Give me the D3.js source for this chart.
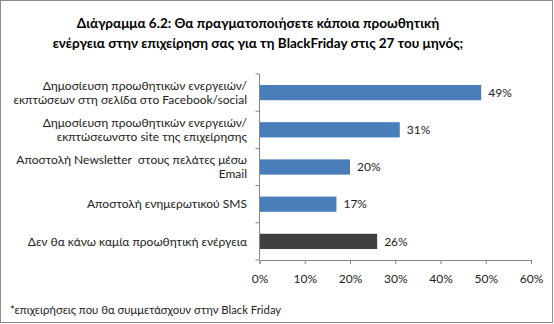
<!DOCTYPE html>
<html><head><meta charset="utf-8">
<script src="https://cdn.jsdelivr.net/npm/d3@7"></script>
<style>body{margin:0;background:#fff}svg{display:block}text{font-family:Lato,"Open Sans",sans-serif;white-space:pre}</style>
</head><body>
<svg id="c" width="554" height="324"></svg>
<script>
const categories = [
  ["Δημοσίευση προωθητικών ενεργειών/", "εκπτώσεων στη σελίδα στο Facebook/social"],
  ["Δημοσίευση προωθητικών ενεργειών/", "εκπτώσεωνστο site της επιχείρησης"],
  ["Αποστολή Newsletter  στους πελάτες μέσω", "Email"],
  ["Αποστολή ενημερωτικού SMS"],
  ["Δεν θα κάνω καμία προωθητική ενέργεια"]
];
const values = [49, 31, 20, 17, 26];
const barColors = ["#4a7ebb", "#4a7ebb", "#4a7ebb", "#4a7ebb", "#404040"];
const xTicks = [0, 10, 20, 30, 40, 50, 60];
const titleLines = ["Διάγραμμα 6.2: Θα πραγματοποιήσετε κάποια προωθητική", "ενέργεια στην επιχείρηση σας για τη BlackFriday στις 27 του μηνός;"];
const footnote = "*επιχειρήσεις που θα συμμετάσχουν στην Black Friday";

const svg = d3.select("#c");
svg.append("rect").attr("x",0.5).attr("y",0.5).attr("width",552).attr("height",322)
  .attr("fill","#fff").attr("stroke","#8c8c8c");

svg.append("g").selectAll("text").data(titleLines).join("text")
  .attr("x",258).attr("y",(d,i)=>28+i*20).attr("text-anchor","middle")
  .attr("font-size",13.5).attr("font-weight","bold").attr("fill","#000").text(d=>d);

const x = d3.scaleLinear().domain([0,60]).range([259.5,531]);
const y = d3.scaleBand().domain(d3.range(categories.length)).range([74,260]).paddingInner(0.59).paddingOuter(0.295);
const band = d3.scaleBand().domain(d3.range(categories.length)).range([74,260]);

const g = svg.append("g");
g.selectAll("rect.bar").data(values).join("rect").attr("class","bar")
  .attr("x",x(0)).attr("y",(d,i)=>y(i)).attr("width",d=>x(d)-x(0)).attr("height",y.bandwidth())
  .attr("fill",(d,i)=>barColors[i]);
g.selectAll("text.val").data(values).join("text").attr("class","val")
  .attr("x",d=>x(d)+7).attr("y",(d,i)=>y(i)+y.bandwidth()/2).attr("dy","0.35em")
  .attr("font-size",12).attr("fill","#222").text(d=>d+"%");

const axisColor = "#868686";
g.append("line").attr("x1",x(0)).attr("x2",x(0)).attr("y1",74).attr("y2",260).attr("stroke",axisColor);
const bounds = d3.range(categories.length+1).map(i=> i<categories.length ? band(i) : 260);
g.selectAll("line.yt").data(bounds).join("line").attr("class","yt")
  .attr("x1",x(0)-4).attr("x2",x(0)).attr("y1",d=>d).attr("y2",d=>d).attr("stroke",axisColor);

categories.forEach((lines,i)=>{
  const cy = band(i)+band.bandwidth()/2;
  const lh = 14;
  const t = g.append("text").attr("text-anchor","end").attr("font-size",12).attr("fill","#222");
  lines.forEach((ln,j)=>{
    t.append("tspan").attr("x",247).attr("y",cy + (j-(lines.length-1)/2)*lh).attr("dy","0.35em").text(ln);
  });
});

const xa = svg.append("g").attr("transform","translate(0,260)")
  .call(d3.axisBottom(x).tickValues(xTicks).tickFormat(d=>d+"%").tickSize(4).tickPadding(10));
xa.select(".domain").attr("stroke",axisColor);
xa.selectAll(".tick line").attr("stroke",axisColor);
xa.selectAll(".tick text").attr("font-size",12).attr("fill","#222").attr("font-family","Lato,'Open Sans',sans-serif");

svg.append("text").attr("x",10).attr("y",314).attr("font-size",11.3).attr("fill","#222").text(footnote);
</script>
</body></html>
